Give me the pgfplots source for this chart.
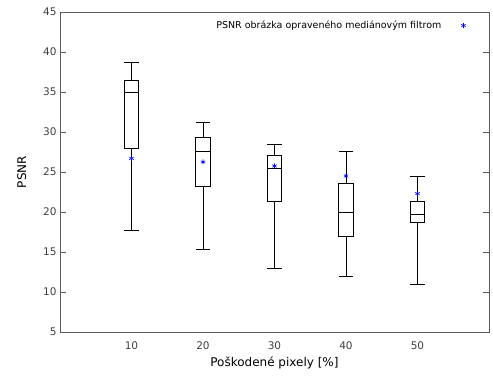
\documentclass[border=0pt]{standalone}
\usepackage{fontspec}
\setmainfont{DejaVu Sans}
\usepackage{pgfplots}
\pgfplotsset{compat=1.18}
\usepgfplotslibrary{statistics}
\definecolor{axgray}{RGB}{90,90,90}
\begin{document}
\begin{tikzpicture}[x=1pt,y=1pt]
\path[use as bounding box] (0,0) rectangle (493,385);
\begin{axis}[
  at={(60pt,53pt)}, anchor=south west,
  scale only axis, width=429pt, height=320pt,
  xmin=0, xmax=60, ymin=5, ymax=45,
  xtick={10,20,30,40,50}, ytick={5,10,...,45},
  major tick length=6pt,
  x tick style={draw=none},
  y tick style={axgray},
  ytick pos=both, tick align=inside,
  axis line style={axgray},
  /pgf/number format/assume math mode=true,
  tick label style={font=\fontsize{10.5}{12}\selectfont, text=black!75},
  xticklabel style={yshift=-6pt},
  xlabel={Poškodené pixely [\%]},
  ylabel={PSNR},
  label style={font=\fontsize{12}{14}\selectfont},
  xlabel style={yshift=-1pt},
  ylabel style={yshift=10pt},
  legend style={draw=none, fill=none, at={(0.953,0.985)}, anchor=north east,
     font=\fontsize{9.5}{11}\selectfont, legend plot pos=right},
  boxplot/draw direction=y,
]
\addplot+[black, thick, solid, mark=none, forget plot,
  boxplot prepared={draw position=10, box extend=2, whisker extend=2,
   lower whisker=17.75, lower quartile=28.0, median=34.9, upper quartile=36.4, upper whisker=38.7}]
  coordinates {};
\addplot+[black, thick, solid, mark=none, forget plot,
  boxplot prepared={draw position=20, box extend=2, whisker extend=2,
   lower whisker=15.3, lower quartile=23.25, median=27.6, upper quartile=29.3, upper whisker=31.2}]
  coordinates {};
\addplot+[black, thick, solid, mark=none, forget plot,
  boxplot prepared={draw position=30, box extend=2, whisker extend=2,
   lower whisker=13.0, lower quartile=21.3, median=25.5, upper quartile=27.1, upper whisker=28.5}]
  coordinates {};
\addplot+[black, thick, solid, mark=none, forget plot,
  boxplot prepared={draw position=40, box extend=2, whisker extend=2,
   lower whisker=12.0, lower quartile=16.9, median=20.0, upper quartile=23.6, upper whisker=27.6}]
  coordinates {};
\addplot+[black, thick, solid, mark=none, forget plot,
  boxplot prepared={draw position=50, box extend=2, whisker extend=2,
   lower whisker=10.9, lower quartile=18.7, median=19.75, upper quartile=21.3, upper whisker=24.5}]
  coordinates {};
\addplot[only marks, mark=asterisk, blue, mark size=2.5pt, semithick]
  coordinates {(10,26.7) (20,26.25) (30,25.75) (40,24.5) (50,22.3)};
\addlegendentry{PSNR obrázka opraveného mediánovým filtrom\rule{18pt}{0pt}}
\end{axis}
\end{tikzpicture}
\end{document}
